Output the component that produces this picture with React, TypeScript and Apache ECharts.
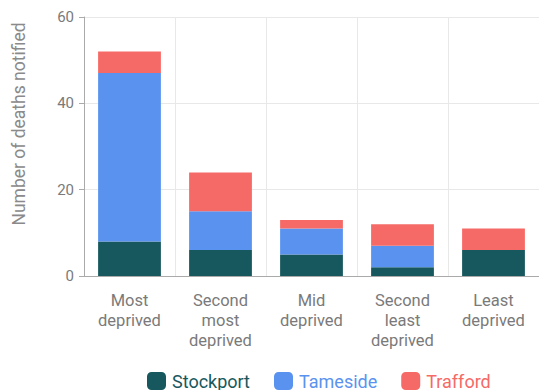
import React, { useEffect, useRef } from "react";
import * as echarts from "echarts";

const categories = ["Most\ndeprived", "Second\nmost\ndeprived", "Mid\ndeprived", "Second\nleast\ndeprived", "Least\ndeprived"];
const stockport = [8, 6, 5, 2, 6];
const tameside = [39, 9, 6, 5, 0];
const trafford = [5, 9, 2, 5, 5];
const yTicks = [0, 20, 40, 60];

const COLORS = { Stockport: "#17585e", Tameside: "#5a93ef", Trafford: "#f56a66" };
const FONT = "Roboto, 'Noto Sans', sans-serif";

export default function App() {
  const ref = useRef<HTMLDivElement>(null);
  useEffect(() => {
    if (!ref.current) return;
    const chart = echarts.init(ref.current, null, { renderer: "svg" });
    const mk = (name: string, data: number[]) => ({
      name,
      type: "bar",
      stack: "total",
      data,
      barWidth: "69%",
      itemStyle: { color: (COLORS as any)[name] },
    });
    chart.setOption({
      animation: false,
      textStyle: { fontFamily: FONT },
      grid: { left: 84, top: 17, width: 465, height: 259 },
      xAxis: {
        type: "category",
        data: categories,
        axisLine: { lineStyle: { color: "#aaaaaa" } },
        axisTick: { alignWithLabel: true, length: 5, lineStyle: { color: "#aaaaaa" } },
        axisLabel: { color: "#7a7a7a", fontSize: 16.5, lineHeight: 20, margin: 14, interval: 0, fontFamily: FONT },
        splitLine: { show: true, lineStyle: { color: "#e8e8e8" } },
      },
      yAxis: {
        type: "value",
        min: yTicks[0],
        max: yTicks[yTicks.length - 1],
        interval: 20,
        axisLine: { show: true, lineStyle: { color: "#aaaaaa" } },
        axisTick: { show: true, length: 5, lineStyle: { color: "#aaaaaa" } },
        axisLabel: { color: "#7a7a7a", fontSize: 15, margin: 10, fontFamily: FONT },
        splitLine: { show: true, lineStyle: { color: "#e8e8e8" } },
      },
      legend: {
        left: 142,
        top: 367,
        itemWidth: 19,
        itemHeight: 18,
        itemGap: 24,
        icon: "roundRect",
        textStyle: { fontSize: 18, fontFamily: FONT, padding: [0, 0, 0, 1] },
        data: (["Stockport", "Tameside", "Trafford"] as const).map((n) => ({
          name: n,
          textStyle: { color: COLORS[n] },
        })),
      },
      graphic: [
        {
          type: "text",
          x: 19,
          y: 124,
          rotation: Math.PI / 2,
          style: {
            text: "Number of deaths notified",
            fill: "#8a8a8a",
            fontSize: 17.5,
            fontFamily: FONT,
            align: "center",
            verticalAlign: "middle",
          },
        },
      ],
      series: [mk("Stockport", stockport), mk("Tameside", tameside), mk("Trafford", trafford)],
    });
    return () => chart.dispose();
  }, []);
  return (
    <div
      ref={ref}
      style={{ position: "fixed", left: 0, top: 0, width: 539, height: 390, background: "#fff" }}
    />
  );
}
